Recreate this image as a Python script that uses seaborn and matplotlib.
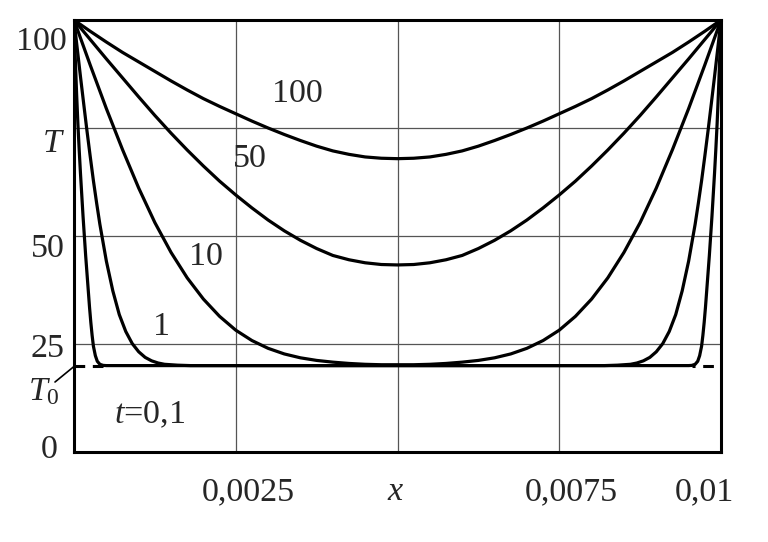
import matplotlib
matplotlib.use("Agg")
import matplotlib.pyplot as plt
import pandas as pd
import seaborn as sns

# temperature profiles T(x) for several times t
x_grid = [0.0, 0.00025, 0.0005, 0.00075, 0.001, 0.00125, 0.0015, 0.00175, 0.002,
          0.00225, 0.0025, 0.00275, 0.003, 0.00325, 0.0035, 0.00375, 0.004,
          0.00425, 0.0045, 0.00475, 0.005, 0.00525, 0.0055, 0.00575, 0.006,
          0.00625, 0.0065, 0.00675, 0.007, 0.00725, 0.0075, 0.00775, 0.008,
          0.00825, 0.0085, 0.00875, 0.009, 0.00925, 0.0095, 0.00975, 0.01]

T_100 = [100, 97.4, 94.9, 92.5, 90.3, 88.1, 85.9, 83.8, 81.8, 80.0, 78.3, 76.6,
         75.0, 73.5, 72.1, 70.8, 69.7, 68.9, 68.3, 68.0, 67.9,
         68.0, 68.3, 68.9, 69.7, 70.8, 72.1, 73.5, 75.0, 76.6, 78.3, 80.0,
         81.8, 83.8, 85.9, 88.1, 90.3, 92.5, 94.9, 97.4, 100]

T_50 = [100, 95.5, 91.0, 86.6, 82.2, 77.9, 73.8, 69.9, 66.2, 62.7, 59.5, 56.5,
        53.7, 51.2, 49.0, 47.1, 45.5, 44.5, 43.8, 43.4, 43.3,
        43.4, 43.8, 44.5, 45.5, 47.1, 49.0, 51.2, 53.7, 56.5, 59.5, 62.7,
        66.2, 69.9, 73.8, 77.9, 82.2, 86.6, 91.0, 95.5, 100]

T_10 = [100, 89.6, 79.5, 70.0, 61.1, 53.1, 46.2, 40.3, 35.4, 31.4, 28.2, 25.8,
        24.0, 22.7, 21.8, 21.2, 20.8, 20.5, 20.3, 20.2, 20.2,
        20.2, 20.3, 20.5, 20.8, 21.2, 21.8, 22.7, 24.0, 25.8, 28.2, 31.4,
        35.4, 40.3, 46.2, 53.1, 61.1, 70.0, 79.5, 89.6, 100]

x_1 = [0.0, 0.00005, 0.0001, 0.00015, 0.0002, 0.00025, 0.0003, 0.00035, 0.0004,
       0.0005, 0.0006, 0.0007, 0.0008, 0.0009, 0.001, 0.0011, 0.0012, 0.0013,
       0.0014, 0.0016, 0.0018, 0.002,
       0.008, 0.0082, 0.0084, 0.0086, 0.0087, 0.0088, 0.0089, 0.009, 0.0091,
       0.0092, 0.0093, 0.0094, 0.0095, 0.0096, 0.00965, 0.0097, 0.00975,
       0.0098, 0.00985, 0.0099, 0.00995, 0.01]
T_1 = [100, 93.4, 86.9, 80.6, 74.4, 68.5, 62.8, 57.6, 52.7, 44.2, 37.3, 31.8,
       27.9, 25.1, 23.2, 21.9, 21.1, 20.6, 20.3, 20.1, 20.0, 20.0,
       20.0, 20.0, 20.1, 20.3, 20.6, 21.1, 21.9, 23.2, 25.1, 27.9, 31.8,
       37.3, 44.2, 52.7, 57.6, 62.8, 68.5, 74.4, 80.6, 86.9, 93.4, 100]

x_01 = [0.0, 0.00002, 0.00004, 0.00006, 0.00008, 0.0001, 0.00012, 0.00014,
        0.00016, 0.00018, 0.0002, 0.00022, 0.00024, 0.00026, 0.00028, 0.0003,
        0.00033, 0.00036, 0.0004, 0.00045, 0.0005,
        0.0095, 0.00955, 0.0096, 0.00964, 0.00967, 0.0097, 0.00972, 0.00974,
        0.00976, 0.00978, 0.0098, 0.00982, 0.00984, 0.00986, 0.00988, 0.0099,
        0.00992, 0.00994, 0.00996, 0.00998, 0.01]
T_01 = [100, 91, 83, 76, 70, 64.5, 59.5, 54.5, 50, 45.5, 41.5, 37.5, 33.5, 30,
        27, 24.5, 22.3, 21.0, 20.3, 20.05, 20,
        20, 20.05, 20.3, 21.0, 22.3, 24.5, 27, 30, 33.5, 37.5, 41.5, 45.5,
        50, 54.5, 59.5, 64.5, 70, 76, 83, 91, 100]

T0 = 20
x_ticks = [0.0025, 0.005, 0.0075]
T_ticks = [25, 50, 75]

df = pd.concat([
    pd.DataFrame({"x": x_01, "T": T_01, "t": "0,1"}),
    pd.DataFrame({"x": x_1, "T": T_1, "t": "1"}),
    pd.DataFrame({"x": x_grid, "T": T_10, "t": "10"}),
    pd.DataFrame({"x": x_grid, "T": T_50, "t": "50"}),
    pd.DataFrame({"x": x_grid, "T": T_100, "t": "100"}),
], ignore_index=True)

sns.set_style("white")
plt.rcParams["font.family"] = ["Liberation Serif", "DejaVu Serif"]
plt.rcParams["mathtext.fontset"] = "custom"
plt.rcParams["mathtext.rm"] = "Liberation Serif"
plt.rcParams["mathtext.it"] = "Liberation Serif:italic"

fig = plt.figure(figsize=(7.68, 5.42), dpi=100)
ax = fig.add_axes([74 / 768, 90 / 542, 647 / 768, 432 / 542])

# initial temperature T0: dashed only next to the walls, where t=0,1 is above it
ax.hlines(T0, 0, x_01[19], color="black", lw=2.2, ls=(0, (3.5, 2.5)), zorder=2)
ax.hlines(T0, x_01[22], 0.01, color="black", lw=2.2, ls=(2.5, (3.5, 2.5)), zorder=2)
sns.lineplot(data=df, x="x", y="T", units="t", estimator=None, color="black",
             linewidth=2.3, legend=False, ax=ax, zorder=3)

ax.set_xlim(0, 0.01)
ax.set_ylim(0, 100)
ax.set_xticks(x_ticks)
ax.set_yticks(T_ticks)
ax.set_xticklabels([])
ax.set_yticklabels([])
ax.tick_params(length=0)
ax.grid(True, color="#555555", lw=0.9)
ax.set_xlabel("")
ax.set_ylabel("")
for s in ax.spines.values():
    s.set_visible(True)
    s.set_color("black")
    s.set_linewidth(2.2)

fs = 24.5
px = 0.01 / 647  # one pixel in x units

# y axis labels
ax.text(-7 * px, 93.1, "100", ha="right", va="baseline", fontsize=fs)
ax.text(-22 * px, 69.4, "T", ha="center", va="baseline", fontsize=fs, style="italic")
ax.text(-9 * px, 45.2, "50", ha="right", va="baseline", fontsize=fs)
ax.text(-9 * px, 22.0, "25", ha="right", va="baseline", fontsize=fs)
ax.text(-14 * px, 12.0, r"$T_{\mathit{0}}$", ha="right", va="baseline", fontsize=fs)
ax.text(-16 * px, -1.4, "0", ha="right", va="baseline", fontsize=fs)
ax.plot([-19 * px, 0], [16.2, 19.8], color="black", lw=1.2, clip_on=False)

# x axis labels
ax.text(0.00269, -11.1, "0,0025", ha="center", va="baseline", fontsize=fs)
ax.text(0.00496, -11.1, "x", ha="center", va="baseline", fontsize=fs, style="italic")
ax.text(0.00768, -11.1, "0,0075", ha="center", va="baseline", fontsize=fs)
ax.text(0.00975, -11.1, "0,01", ha="center", va="baseline", fontsize=fs)

# curve labels
ax.text(0.003447, 81.1, "100", ha="center", va="baseline", fontsize=fs)
ax.text(0.00272, 66.0, "50", ha="center", va="baseline", fontsize=fs)
ax.text(0.00204, 43.3, "10", ha="center", va="baseline", fontsize=fs)
ax.text(0.00135, 27.1, "1", ha="center", va="baseline", fontsize=fs)
ax.text(0.00117, 6.7, r"$t$=0,1", ha="center", va="baseline", fontsize=fs)

fig.savefig("out.png", dpi=100)
plt.close(fig)
